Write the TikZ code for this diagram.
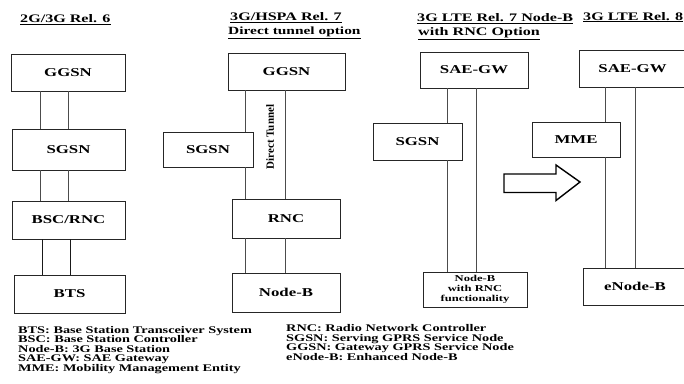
\documentclass[tikz,border=0pt]{standalone}
\usepackage{fontspec}
\setmainfont{Liberation Serif}[FakeStretch=1.4]
\newfontfamily\plainfont{Liberation Serif}
\begin{document}
\begin{tikzpicture}[x=1pt,y=-1pt,
  box/.style={draw=black!85, line width=0.8pt, inner sep=0pt, font=\fontsize{12}{12}\selectfont\bfseries},
  link/.style={draw=black!70, line width=0.6pt},
  thicklink/.style={draw=black!90, line width=0.95pt},
  ttl/.style={anchor=base west, inner sep=0pt, font=\fontsize{11.5}{12}\selectfont\bfseries},
  leg/.style={anchor=base west, inner sep=0pt, font=\fontsize{10.2}{10}\selectfont\bfseries},
  bigarrow/.style={draw=black, line width=1.4pt, line join=miter}]
\useasboundingbox (0,0) rectangle (684,383);
\clip (0,0) rectangle (684,383);

% titles
\node[ttl] (t1) at (20,22.5) {\underline{2G/3G Rel. 6}};
\node[ttl] (t2a) at (230,20.7) {\underline{3G/HSPA Rel. 7}};
\node[ttl, font=\fontsize{11}{12}\selectfont\bfseries] (t2b) at (228,34) {\underline{Direct tunnel option}};
\node[ttl] (t3a) at (417,21.5) {\underline{3G LTE Rel. 7 Node-B}};
\node[ttl] (t3b) at (418,35) {\underline{with RNC Option}};
\node[ttl] (t4) at (583,20) {\underline{3G LTE Rel. 8}};

% column 1
\node[box, minimum width=114pt, minimum height=37pt] (ggsn1) at (68,72.5) {GGSN};
\node[box, minimum width=113pt, minimum height=41pt] (sgsn1) at (68.5,149.5) {SGSN};
\node[box, minimum width=113pt, minimum height=38pt] (bsc1) at (68.5,220) {BSC/RNC};
\node[box, minimum width=111pt, minimum height=38pt] (bts1) at (69.5,294) {BTS};
\coordinate (c1a) at (40,0);
\coordinate (c1b) at (68,0);
\coordinate (c1c) at (42,0);
\coordinate (c1d) at (70,0);
\draw[link] (ggsn1.south -| c1a) -- (sgsn1.north -| c1a);
\draw[link] (ggsn1.south -| c1b) -- (sgsn1.north -| c1b);
\draw[link] (sgsn1.south -| c1a) -- (bsc1.north -| c1a);
\draw[link] (sgsn1.south -| c1b) -- (bsc1.north -| c1b);
\draw[thicklink] (bsc1.south -| c1c) -- (bts1.north -| c1c);
\draw[thicklink] (bsc1.south -| c1d) -- (bts1.north -| c1d);

% column 2
\node[box, minimum width=117pt, minimum height=37pt] (ggsn2) at (286.5,71.5) {GGSN};
\node[box, minimum width=90pt, minimum height=35pt] (sgsn2) at (208,149.5) {SGSN};
\node[box, minimum width=108pt, minimum height=39pt] (rnc2) at (286,218.5) {RNC};
\node[box, minimum width=108pt, minimum height=39pt] (nodeb2) at (286,292.5) {Node-B};
\coordinate (c2a) at (245,0);
\coordinate (c2b) at (285,0);
\draw[link] (ggsn2.south -| c2a) -- (sgsn2.north -| c2a);
\draw[link] (sgsn2.south -| c2a) -- (rnc2.north -| c2a);
\draw[link] (ggsn2.south -| c2b) -- (rnc2.north -| c2b);
\draw[link] (rnc2.south -| c2a) -- (nodeb2.north -| c2a);
\draw[link] (rnc2.south -| c2b) -- (nodeb2.north -| c2b);
\node[rotate=90, inner sep=0pt, font=\plainfont\fontsize{11}{12}\selectfont\bfseries] (dt) at (270,137) {Direct Tunnel};

% column 3
\node[box, minimum width=108pt, minimum height=36pt] (sae3) at (474,70) {SAE-GW};
\node[box, minimum width=89pt, minimum height=37pt] (sgsn3) at (417.5,141.5) {SGSN};
\node[box, minimum width=104pt, minimum height=35pt, align=center,
      font=\fontsize{9}{10.3}\selectfont\bfseries] (nodeb3) at (475,289.5) {Node-B\\with RNC\\functionality};
\coordinate (c3a) at (447,0);
\coordinate (c3b) at (476,0);
\draw[link] (sae3.south -| c3a) -- (sgsn3.north -| c3a);
\draw[link] (sgsn3.south -| c3a) -- (nodeb3.north -| c3a);
\draw[link] (sae3.south -| c3b) -- (nodeb3.north -| c3b);

% arrow
\draw[bigarrow] (504,174) -- (556,174) -- (556,165) -- (580,182) -- (556,200.5) -- (556,192.5) -- (504,192.5) -- cycle;

% column 4
\node[box, minimum width=107pt, minimum height=37pt] (sae4) at (632.5,68.5) {SAE-GW};
\node[box, minimum width=88pt, minimum height=35pt] (mme4) at (576,139.5) {MME};
\node[box, minimum width=104pt, minimum height=37pt] (enb4) at (635,286.5) {eNode-B};
\coordinate (c4a) at (605,0);
\coordinate (c4b) at (635,0);
\draw[link] (sae4.south -| c4a) -- (mme4.north -| c4a);
\draw[link] (mme4.south -| c4a) -- (enb4.north -| c4a);
\draw[link] (sae4.south -| c4b) -- (enb4.north -| c4b);

% legend
\node[leg] (l1) at (18,333.3) {BTS: Base Station Transceiver System};
\node[leg] (l2) at (18,342.8) {BSC: Base Station Controller};
\node[leg] (l3) at (18,352.3) {Node-B: 3G Base Station};
\node[leg] (l4) at (18,361.8) {SAE-GW: SAE Gateway};
\node[leg] (l5) at (18,371.3) {MME: Mobility Management Entity};
\node[leg] (r1) at (286,331.3) {RNC: Radio Network Controller};
\node[leg] (r2) at (286,341.3) {SGSN: Serving GPRS Service Node};
\node[leg] (r3) at (286,350.8) {GGSN: Gateway GPRS Service Node};
\node[leg] (r4) at (286,360.3) {eNode-B: Enhanced Node-B};
\end{tikzpicture}
\end{document}
